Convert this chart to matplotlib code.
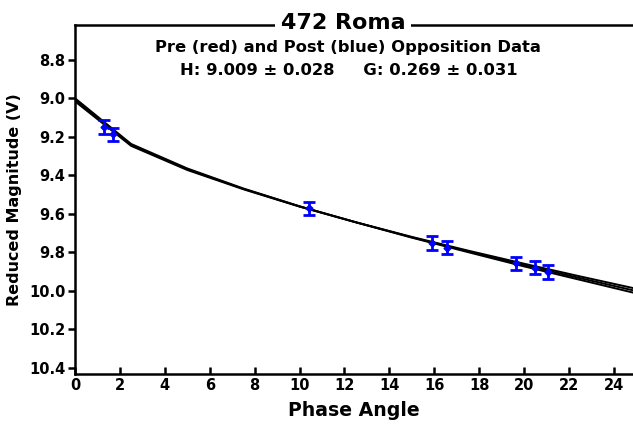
import numpy as np
import matplotlib
matplotlib.use("Agg")
import matplotlib.pyplot as plt

# observations (phase angle, reduced magnitude, error)
obs_angle = [1.31, 1.71, 10.44, 15.89, 16.57, 19.62, 20.48, 21.06]
obs_mag = [9.149, 9.188, 9.572, 9.750, 9.776, 9.857, 9.880, 9.903]
obs_err = [0.035, 0.035, 0.035, 0.037, 0.035, 0.035, 0.035, 0.035]

# fitted H-G curves (nominal and the two error curves)
curve_angle = [0, 2.5, 5, 7.5, 10, 12.5, 15, 17.5, 20, 22.5, 25]
curve_mid = [9.009, 9.243, 9.369, 9.471, 9.562, 9.644, 9.722, 9.795, 9.866, 9.934, 10.001]
curve_hi = [9.017, 9.248, 9.373, 9.473, 9.563, 9.644, 9.720, 9.791, 9.859, 9.925, 9.989]
curve_lo = [9.001, 9.238, 9.365, 9.469, 9.561, 9.644, 9.724, 9.799, 9.873, 9.943, 10.013]

xticks = list(range(0, 25, 2))
yticks = [8.8, 9.0, 9.2, 9.4, 9.6, 9.8, 10.0, 10.2, 10.4]

plt.rcParams['font.family'] = ['DejaVu Sans']
plt.rcParams['font.weight'] = 'bold'

fig = plt.figure(figsize=(6.33, 4.28), dpi=100)
ax = fig.add_axes([0.1185, 0.1262, 0.8815, 0.8154])

for c in (curve_hi, curve_mid, curve_lo):
    ax.plot(curve_angle, c, color='black', lw=1.4, zorder=2)

ax.errorbar(obs_angle, obs_mag, yerr=obs_err, fmt='D', color='#0000ff', ms=3.5,
            elinewidth=2, capsize=4, capthick=2, zorder=3)

ax.set_xlim(0, 24.85)
ax.set_ylim(10.431, 8.621)
ax.set_xticks(xticks)
ax.set_yticks(yticks)
ax.set_yticklabels(['%.1f' % v for v in yticks])
ax.tick_params(axis='x', direction='in', length=5, width=1.8, labelsize=10.5, pad=3)
ax.tick_params(axis='y', direction='out', length=5, width=1.8, labelsize=10.5, pad=2)
for lab in ax.get_xticklabels() + ax.get_yticklabels():
    lab.set_fontweight('bold')

ax.spines['right'].set_visible(False)
for s in ('left', 'bottom', 'top'):
    ax.spines[s].set_linewidth(1.8)

ax.set_xlabel('Phase Angle', fontsize=13.6, fontweight='bold', labelpad=6)
ax.set_ylabel('Reduced Magnitude (V)', fontsize=11.5, fontweight='bold')
ax.yaxis.set_label_coords(-0.095, 0.5)

fig.text(0.542, 0.947, '472 Roma', fontsize=16, fontweight='bold', ha='center', va='center',
         bbox=dict(facecolor='white', edgecolor='none', pad=4))
fig.text(0.550, 0.888, 'Pre (red) and Post (blue) Opposition Data', fontsize=11.8,
         fontweight='bold', ha='center', va='center')
fig.text(0.551, 0.835, 'H: 9.009 \u00b1 0.028     G: 0.269 \u00b1 0.031', fontsize=11.8,
         fontweight='bold', ha='center', va='center')

plt.savefig('out.png', dpi=100)
